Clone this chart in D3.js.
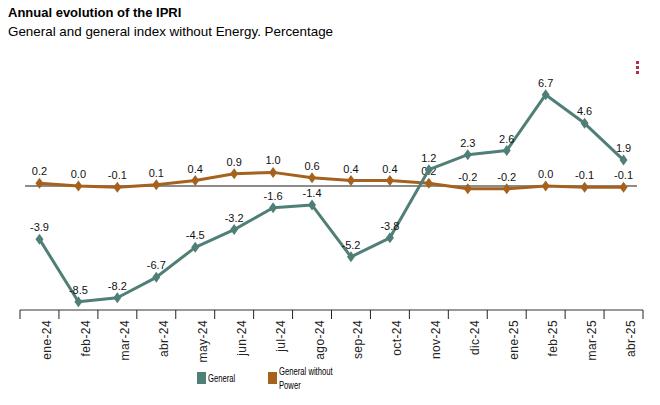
<!DOCTYPE html>
<html>
<head>
<meta charset="utf-8">
<script src="https://cdn.jsdelivr.net/npm/d3@7"></script>
<style>
body { margin: 0; background: #fff; }
</style>
</head>
<body>
<div id="viz"></div>
<script>
const months = ["ene-24", "feb-24", "mar-24", "abr-24", "may-24", "jun-24", "jul-24", "ago-24",
  "sep-24", "oct-24", "nov-24", "dic-24", "ene-25", "feb-25", "mar-25", "abr-25"];
const general = [-3.9, -8.5, -8.2, -6.7, -4.5, -3.2, -1.6, -1.4, -5.2, -3.8, 1.2, 2.3, 2.6, 6.7, 4.6, 1.9];
const noEnergy = [0.2, 0.0, -0.1, 0.1, 0.4, 0.9, 1.0, 0.6, 0.4, 0.4, 0.2, -0.2, -0.2, 0.0, -0.1, -0.1];
const seriesNames = ["General", "General without Power"];
const colors = ["#4f7f77", "#a5611e"];

const width = 660, height = 405;

const svg = d3.select("#viz").append("svg")
  .attr("width", width)
  .attr("height", height)
  .attr("font-family", "Liberation Sans, Arial, sans-serif");

svg.append("text")
  .attr("x", 8).attr("y", 17)
  .attr("font-size", 13).attr("font-weight", "bold")
  .text("Annual evolution of the IPRI");
svg.append("text")
  .attr("x", 8).attr("y", 36)
  .attr("font-size", 13.4)
  .text("General and general index without Energy. Percentage");

// menu dots
svg.append("g").selectAll("rect")
  .data([0, 1, 2])
  .enter().append("rect")
  .attr("x", 636).attr("y", d => 61 + d * 5)
  .attr("width", 3).attr("height", 3)
  .attr("fill", "#b0304c");

const x = d3.scaleBand().domain(months).range([20, 643]);
const y = d3.scaleLinear().domain([-9.1, 8]).range([310, 77]);
const cx = d => x(d) + x.bandwidth() / 2;

// zero line
svg.append("line")
  .attr("x1", 25).attr("x2", 637)
  .attr("y1", y(0)).attr("y2", y(0))
  .attr("stroke", "#8c8c8c").attr("stroke-width", 2);

// x axis
const xAxis = svg.append("g")
  .attr("transform", `translate(0,${y(-9.1)})`);
xAxis.append("line")
  .attr("x1", 20).attr("x2", 643)
  .attr("stroke", "#999").attr("stroke-width", 2);
xAxis.selectAll("line.tick")
  .data(d3.range(months.length + 1))
  .enter().append("line")
  .attr("class", "tick")
  .attr("x1", i => 20 + i * x.step()).attr("x2", i => 20 + i * x.step())
  .attr("y1", 0).attr("y2", 9)
  .attr("stroke", "#222").attr("stroke-width", 1);
xAxis.selectAll("text")
  .data(months)
  .enter().append("text")
  .attr("transform", d => `translate(${cx(d) + 11.5},10) rotate(-90)`)
  .attr("text-anchor", "end")
  .attr("font-size", 12)
  .attr("letter-spacing", 0.4)
  .attr("fill", "#222")
  .text(d => d);

const line = d3.line()
  .x((d, i) => cx(months[i]))
  .y(d => y(d));

const diamond = "M0,-5.5L4,0L0,5.5L-4,0Z";

[noEnergy, general].forEach((vals, k) => {
  const c = k === 0 ? colors[1] : colors[0];
  const g = svg.append("g");
  g.append("path")
    .datum(vals)
    .attr("fill", "none")
    .attr("stroke", c)
    .attr("stroke-width", 3)
    .attr("stroke-linejoin", "round")
    .attr("d", line);
  g.selectAll("path.m")
    .data(vals)
    .enter().append("path")
    .attr("class", "m")
    .attr("d", diamond)
    .attr("fill", c)
    .attr("transform", (d, i) => `translate(${cx(months[i])},${y(d)})`);
  g.selectAll("text")
    .data(vals)
    .enter().append("text")
    .attr("x", (d, i) => cx(months[i]))
    .attr("y", d => y(d) - 8)
    .attr("text-anchor", "middle")
    .attr("font-size", 11)
    .attr("fill", "#111")
    .text(d => d.toFixed(1));
});

// legend (narrow text)
const legend = svg.append("g").attr("font-size", 10.5);
legend.append("rect").attr("x", 197).attr("y", 372).attr("width", 9).attr("height", 12).attr("fill", colors[0]);
legend.append("text").attr("transform", "translate(208,382) scale(0.73,1)").text(seriesNames[0]);
legend.append("rect").attr("x", 268).attr("y", 372).attr("width", 9).attr("height", 12).attr("fill", colors[1]);
legend.append("text").attr("transform", "translate(279,375) scale(0.73,1)").text("General without");
legend.append("text").attr("transform", "translate(279,389) scale(0.73,1)").text("Power");
</script>
</body>
</html>
